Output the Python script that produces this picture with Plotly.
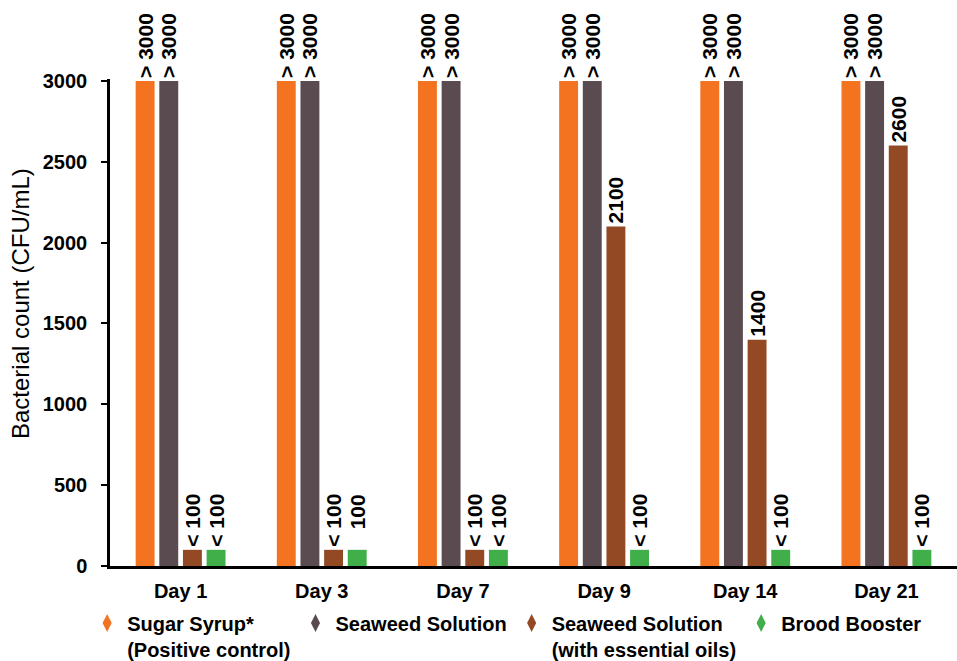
import plotly.graph_objects as go

days = ["Day 1", "Day 3", "Day 7", "Day 9", "Day 14", "Day 21"]

series_names = [
    "Sugar Syrup*<br>(Positive control)",
    "Seaweed Solution",
    "Seaweed Solution<br>(with essential oils)",
    "Brood Booster",
]
series_colors = ["#F47321", "#5A4B51", "#934A24", "#40AE49"]

sugar_syrup = [3000, 3000, 3000, 3000, 3000, 3000]
seaweed = [3000, 3000, 3000, 3000, 3000, 3000]
seaweed_oils = [100, 100, 100, 2100, 1400, 2600]
brood_booster = [100, 100, 100, 100, 100, 100]

sugar_syrup_labels = ["> 3000"] * 6
seaweed_labels = ["> 3000"] * 6
seaweed_oils_labels = ["< 100", "< 100", "< 100", "2100", "1400", "2600"]
brood_booster_labels = ["< 100", "\u00a0\u00a0\u00a0100", "< 100", "< 100", "< 100", "< 100"]

series_values = [sugar_syrup, seaweed, seaweed_oils, brood_booster]
series_labels = [sugar_syrup_labels, seaweed_labels, seaweed_oils_labels, brood_booster_labels]

y_ticks = [0, 500, 1000, 1500, 2000, 2500, 3000]
y_title = "Bacterial count (CFU/mL)"

FONT = "Liberation Sans, Arial, sans-serif"

fig = go.Figure()

for name, color, vals, labels in zip(series_names, series_colors, series_values, series_labels):
    fig.add_trace(go.Bar(
        x=days, y=vals, name=name,
        marker=dict(color=color, line=dict(width=0)),
        text=labels, textposition="outside", textangle=-90,
        textfont=dict(family=FONT, size=21, color="black", weight="bold"),
        constraintext="none", cliponaxis=False,
        showlegend=False, hoverinfo="x+y",
    ))

# legend entries drawn with diamond markers
for name, color in zip(series_names, series_colors):
    fig.add_trace(go.Scatter(
        x=[None], y=[None], mode="markers", name=name,
        marker=dict(symbol="diamond-tall", color=color, size=13),
        showlegend=True,
    ))

fig.update_layout(
    width=957, height=661,
    margin=dict(l=110, r=0, t=79, b=95, autoexpand=False),
    paper_bgcolor="white", plot_bgcolor="white",
    font=dict(family=FONT, size=20, color="black"),
    barmode="group", bargap=0.33, bargroupgap=0.2,
    legend=dict(
        orientation="h", x=-0.027, xanchor="left", y=-0.077, yanchor="top",
        font=dict(family=FONT, size=20, color="black", weight="bold"),
        valign="top", itemclick=False, tracegroupgap=0,
        bgcolor="rgba(0,0,0,0)",
    ),
    xaxis=dict(
        showline=True, linecolor="black", linewidth=2.5,
        ticks="", showgrid=False, zeroline=False,
        tickfont=dict(family=FONT, size=20, color="black", weight="bold"),
        ticklabelstandoff=5,
        range=[-0.5, 5.5], automargin=False,
    ),
    yaxis=dict(
        range=[0, 3012], tickvals=y_ticks,
        showline=True, linecolor="black", linewidth=2.5,
        ticks="outside", ticklen=6, tickwidth=2, tickcolor="black",
        showgrid=False, zeroline=False,
        tickfont=dict(family=FONT, size=20, color="black", weight="bold"),
        ticklabelstandoff=10,
        automargin=False,
    ),
    annotations=[dict(
        text=y_title, textangle=-90, showarrow=False,
        xref="paper", yref="paper",
        x=(20 - 110) / 847, y=(566 - 304) / 487,
        xanchor="center", yanchor="middle",
        font=dict(family=FONT, size=24, color="black"),
    )],
)

fig.write_html("out.html")
